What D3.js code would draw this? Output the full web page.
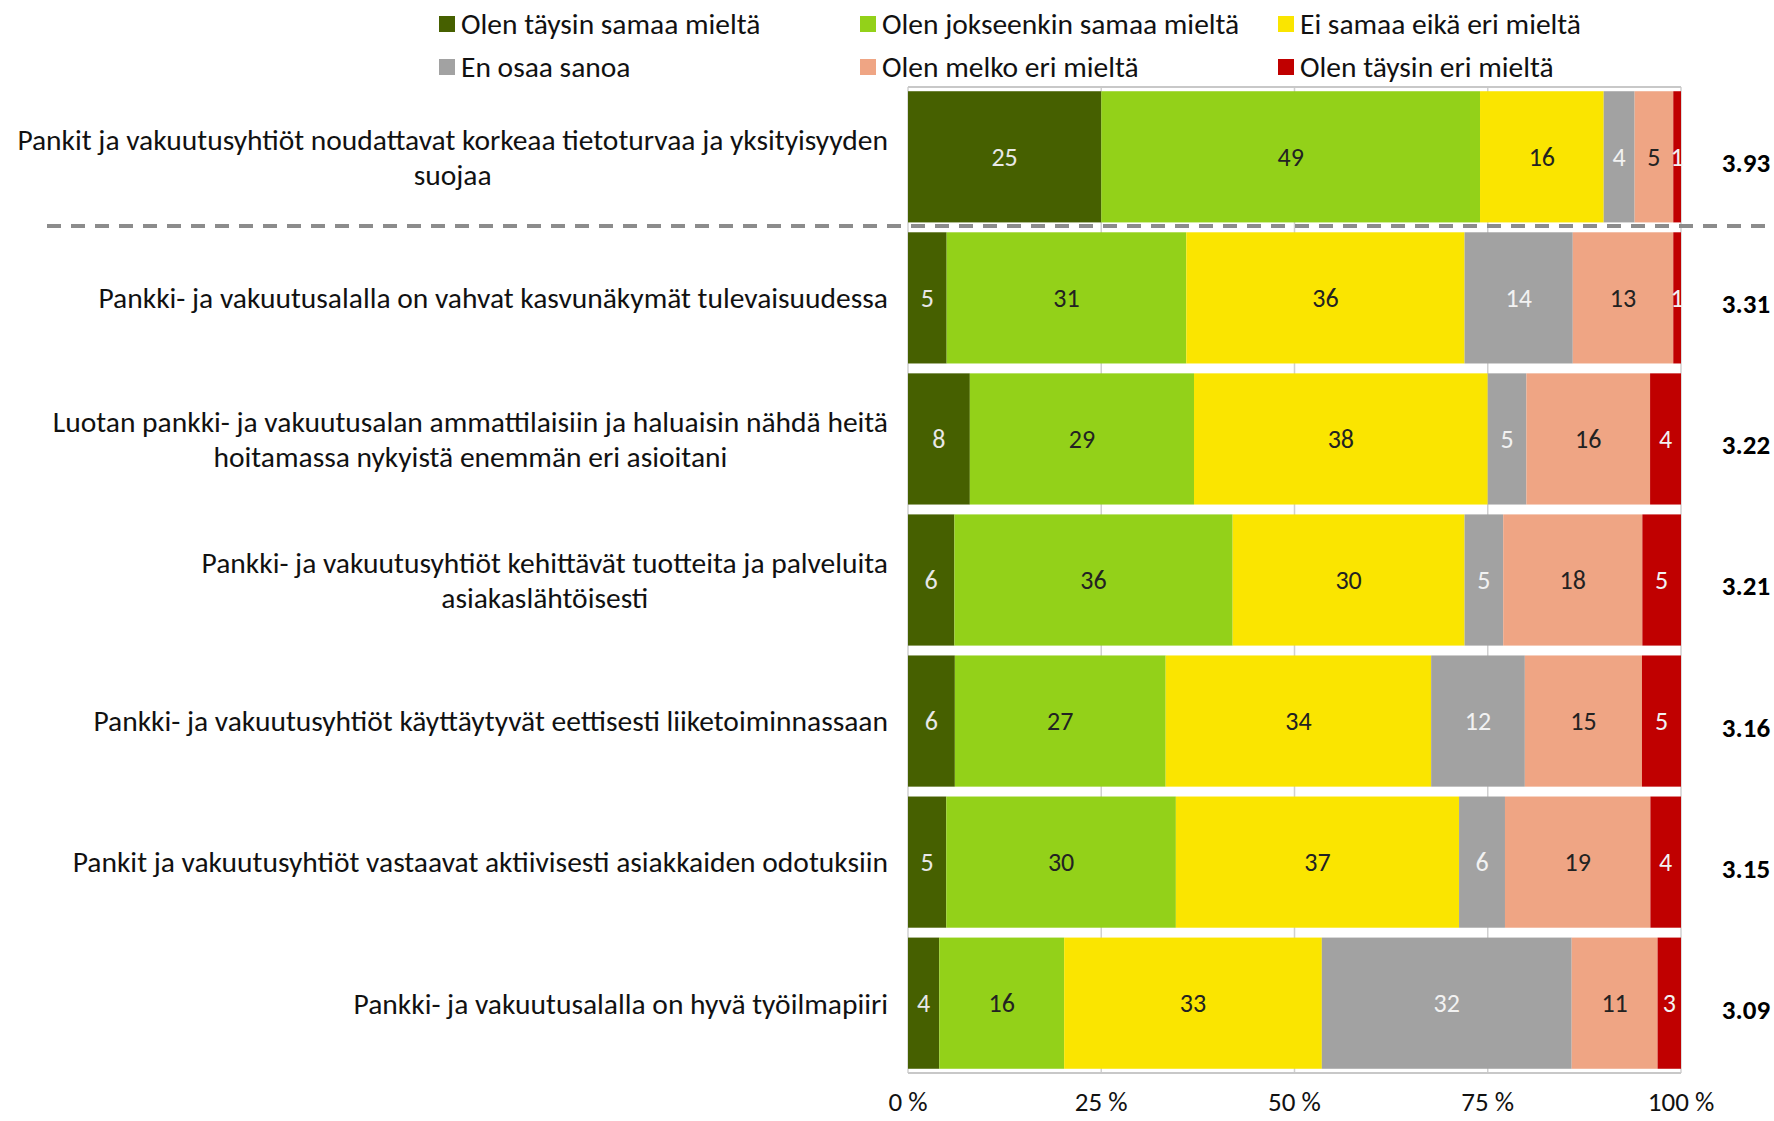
<!DOCTYPE html>
<html><head><meta charset="utf-8">
<script src="https://cdn.jsdelivr.net/npm/d3@7"></script>
<style>
html,body{margin:0;padding:0;background:#fff;}
svg{display:block;}
text{font-family:Carlito,Lato,"Open Sans",sans-serif;}
</style></head>
<body>
<svg id="chart" width="1774" height="1121"></svg>
<script>
const categories = [
  "Pankit ja vakuutusyhtiöt noudattavat korkeaa tietoturvaa ja yksityisyyden|suojaa",
  "Pankki- ja vakuutusalalla on vahvat kasvunäkymät tulevaisuudessa",
  "Luotan pankki- ja vakuutusalan ammattilaisiin ja haluaisin nähdä heitä|hoitamassa nykyistä enemmän eri asioitani",
  "Pankki- ja vakuutusyhtiöt kehittävät tuotteita ja palveluita|asiakaslähtöisesti",
  "Pankki- ja vakuutusyhtiöt käyttäytyvät eettisesti liiketoiminnassaan",
  "Pankit ja vakuutusyhtiöt vastaavat aktiivisesti asiakkaiden odotuksiin",
  "Pankki- ja vakuutusalalla on hyvä työilmapiiri"
];
const seriesNames = ["Olen täysin samaa mieltä","Olen jokseenkin samaa mieltä","Ei samaa eikä eri mieltä","En osaa sanoa","Olen melko eri mieltä","Olen täysin eri mieltä"];
const taysinSamaa   = [25, 5, 8, 6, 6, 5, 4];
const jokseenkin    = [49, 31, 29, 36, 27, 30, 16];
const eiSamaaEiEri  = [16, 36, 38, 30, 34, 37, 33];
const enOsaa        = [4, 14, 5, 5, 12, 6, 32];
const melkoEri      = [5, 13, 16, 18, 15, 19, 11];
const taysinEri     = [1, 1, 4, 5, 5, 4, 3];
const averages = ["3.93","3.31","3.22","3.21","3.16","3.15","3.09"];
const tickValues = [0, 25, 50, 75, 100];
const tickLabels = ["0 %","25 %","50 %","75 %","100 %"];

const colors = ["#466000","#93d119","#fae500","#a2a2a2","#efa584","#c00000"];
const labelColors = ["#e8e8e8","#222","#222","#f2f2f2","#222","#f2f2f2"];
const seriesData = [taysinSamaa, jokseenkin, eiSamaaEiEri, enOsaa, melkoEri, taysinEri];

const svg = d3.select("#chart");
const x0 = 908, x1 = 1681, yTop = 87, yBot = 1073;
const x = d3.scaleLinear().domain([0,100]).range([x0,x1]);
const y = d3.scaleBand().domain(d3.range(categories.length)).range([yTop,yBot]).paddingInner(0.07).paddingOuter(0.03);

// grid
const grid = svg.append("g");
grid.selectAll("line.v").data(tickValues).join("line")
  .attr("x1",d=>x(d)).attr("x2",d=>x(d)).attr("y1",yTop).attr("y2",yBot)
  .attr("stroke","#d0d0d0").attr("stroke-width",1.5);
grid.selectAll("line.h").data([yTop,yBot]).join("line")
  .attr("x1",x0).attr("x2",x1).attr("y1",d=>d).attr("y2",d=>d)
  .attr("stroke","#c8c8c8").attr("stroke-width",2);

// stacked data (normalised to 100 %)
const rows = categories.map((c,i)=>{
  const vals = seriesData.map(s=>s[i]);
  const tot = d3.sum(vals);
  let acc = 0;
  return vals.map((v,j)=>{ const a = acc; acc += v/tot*100; return {row:i, s:j, v, a, b:acc}; });
});

const bars = svg.append("g");
rows.forEach(r=>{
  bars.selectAll(null).data(r).join("rect")
    .attr("x",d=>x(d.a)).attr("width",d=>x(d.b)-x(d.a))
    .attr("y",d=>y(d.row)).attr("height",y.bandwidth())
    .attr("fill",d=>colors[d.s]);
  bars.selectAll(null).data(r).join("text")
    .attr("x",d=>(x(d.a)+x(d.b))/2).attr("y",d=>y(d.row)+y.bandwidth()/2)
    .attr("dy","0.35em").attr("text-anchor","middle")
    .attr("font-size",26).attr("fill",d=>labelColors[d.s])
    .text(d=>d.v);
});

// averages
svg.append("g").selectAll("text").data(averages).join("text")
  .attr("x",1746).attr("y",(d,i)=>y(i)+y.bandwidth()/2+6)
  .attr("dy","0.35em").attr("text-anchor","middle")
  .attr("font-size",27).attr("font-weight","bold").attr("fill","#000")
  .text(d=>d);

// category labels
const lab = svg.append("g");
categories.forEach((c,i)=>{
  const lines = c.split("|");
  const cy = y(i)+y.bandwidth()/2;
  const lh = 35;
  const g = lab.append("g");
  const ts = lines.map((t,k)=>g.append("text")
    .attr("y", cy + (k-(lines.length-1)/2)*lh).attr("dy","0.35em")
    .attr("font-size",29.5).attr("fill","#111").text(t));
  const maxW = d3.max(ts, t=>t.node().getComputedTextLength());
  ts.forEach(t=>t.attr("text-anchor","middle").attr("x", 888 - maxW/2));
});

// separator dashed line
svg.append("line").attr("x1",47).attr("x2",1774).attr("y1",226).attr("y2",226)
  .attr("stroke","#8c8c8c").attr("stroke-width",4).attr("stroke-dasharray","14 10");

// x axis tick labels
svg.append("g").selectAll("text").data(tickValues).join("text")
  .attr("x",d=>x(d)).attr("y",1102).attr("dy","0.35em").attr("text-anchor","middle")
  .attr("font-size",27).attr("fill","#111").text((d,i)=>tickLabels[i]);

// legend
const legPos = [[439,24],[860,24],[1278,24],[439,67],[860,67],[1278,67]];
const leg = svg.append("g");
seriesNames.forEach((n,i)=>{
  const [lx,ly] = legPos[i];
  leg.append("rect").attr("x",lx).attr("y",ly-8).attr("width",16).attr("height",16).attr("fill",colors[i]);
  leg.append("text").attr("x",lx+22).attr("y",ly).attr("dy","0.35em").attr("font-size",29.5).attr("fill","#111").text(n);
});
</script>
</body></html>
